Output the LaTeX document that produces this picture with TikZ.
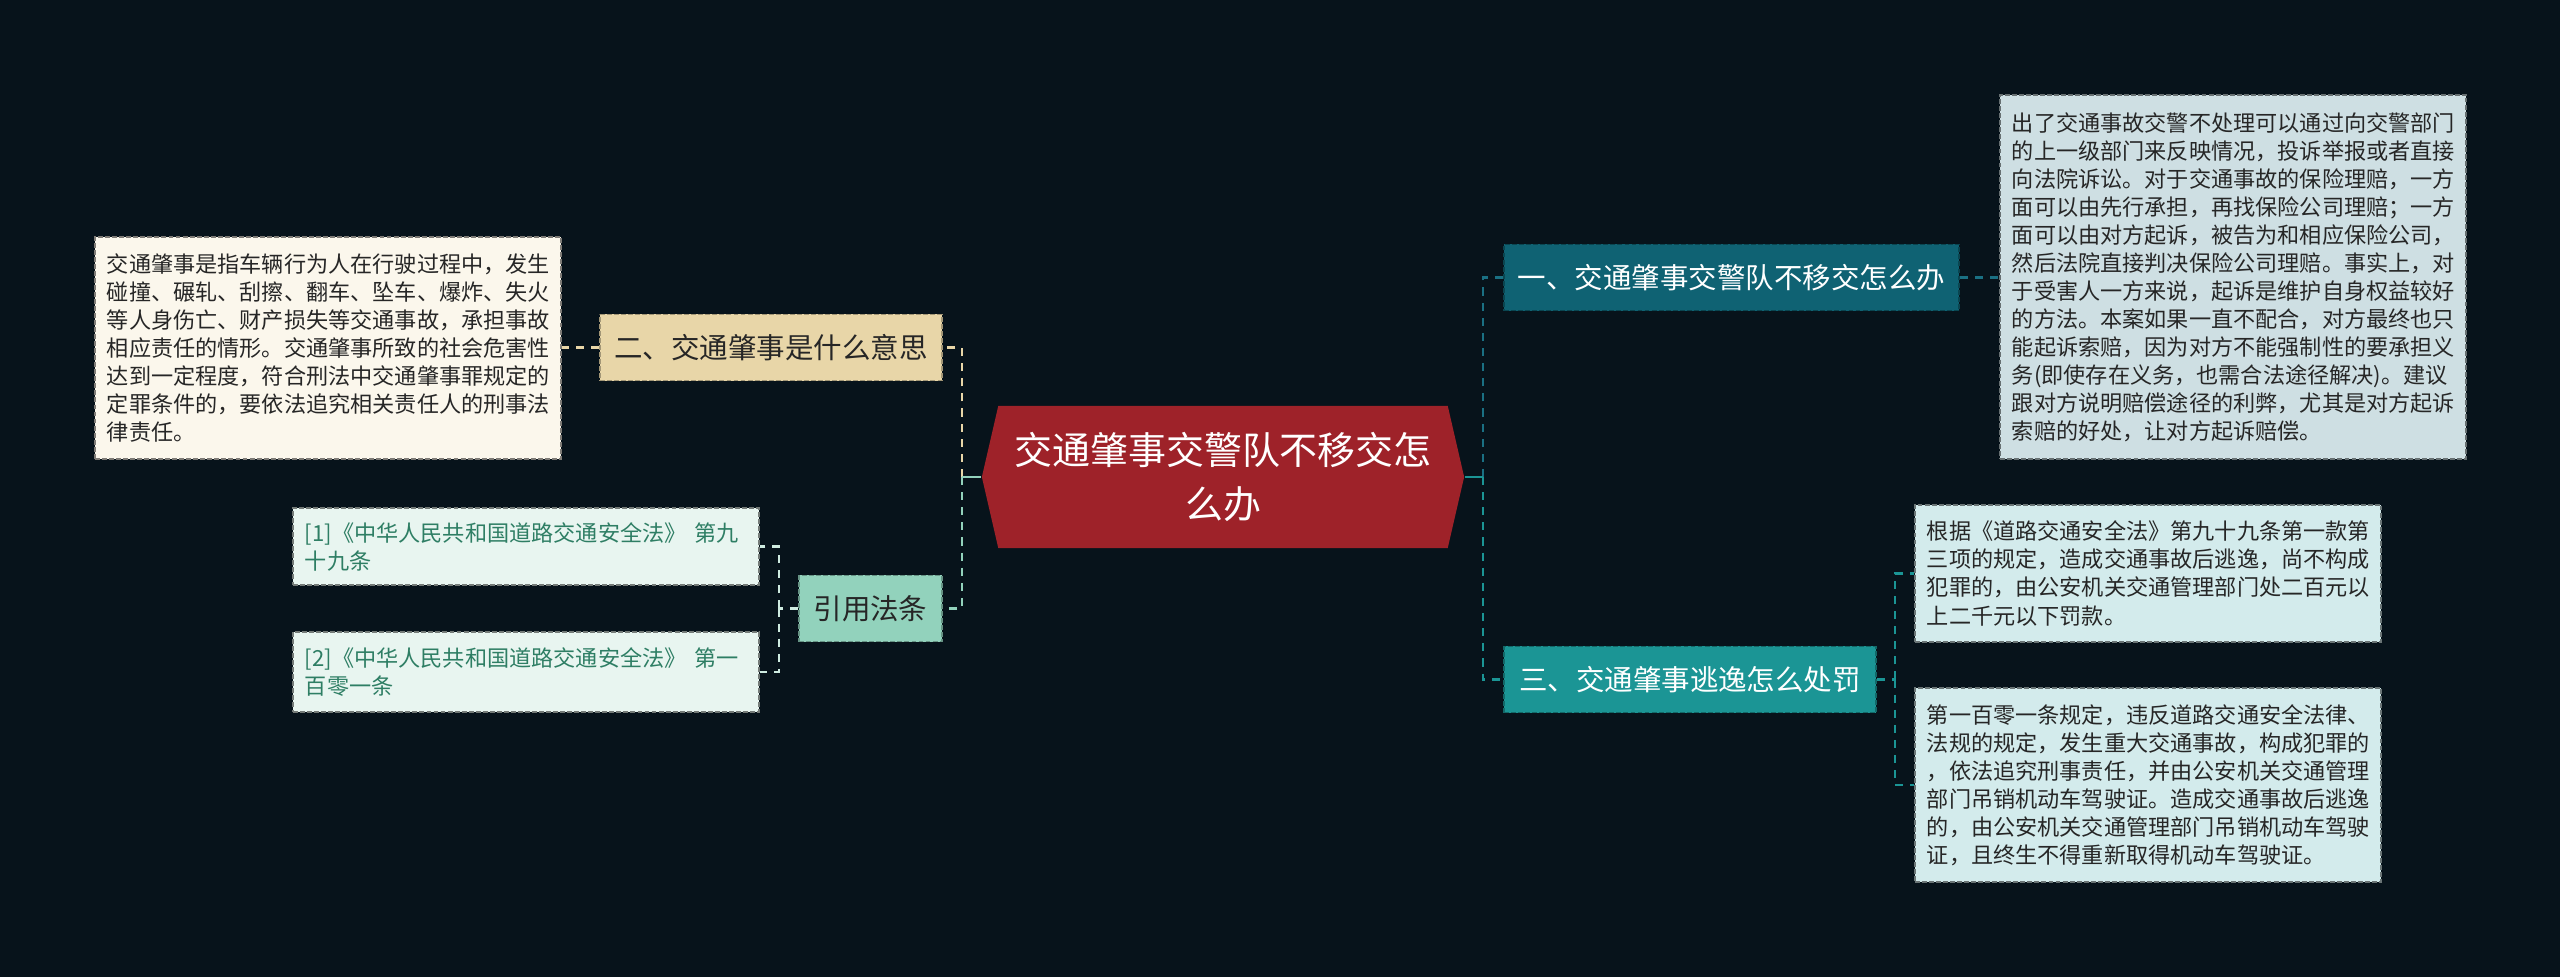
\documentclass[tikz,border=0pt]{standalone}
\usepackage{fontspec}
\setmainfont{Noto Sans CJK SC}
\usetikzlibrary{shapes.symbols}

\definecolor{bg}{HTML}{07131B}
\definecolor{rootred}{HTML}{9E2229}
\definecolor{sand}{HTML}{E8D6A8}
\definecolor{cream}{HTML}{FBF7EC}
\definecolor{mint}{HTML}{92D2BC}
\definecolor{palemint}{HTML}{E8F5F0}
\definecolor{lawgreen}{HTML}{2E7E64}
\definecolor{deepteal}{HTML}{0F6273}
\definecolor{tealline}{HTML}{1A7083}
\definecolor{teal3}{HTML}{1B9595}
\definecolor{mist}{HTML}{CEDFE3}
\definecolor{aqua}{HTML}{D3EBEC}
\definecolor{ink}{HTML}{262626}

\tikzset{
  box/.style={rectangle, draw=#1, dash pattern=on 1.4pt off 0.6pt, line width=0.45pt, inner sep=0pt},
  topic/.style={box=#1!70!black, fill=#1, minimum height=0.66cm, font=\fontsize{8.1}{10}\selectfont},
  note/.style={box=#1!50!black, fill=#1, text=ink, align=left, inner xsep=0.12cm, text width=4.42cm, font=\fontsize{6.3}{7.97}\selectfont},
  root/.style={shape=signal, signal to=west and east, signal pointer angle=154, fill=rootred, text=white, align=center, inner sep=0pt, minimum width=4.82cm, minimum height=1.42cm, font=\fontsize{10.8}{15.6}\selectfont},
  link/.style={line width=0.6pt, dash pattern=on 2.3pt off 2pt},
  stem/.style={line width=0.6pt},
}

\begin{document}
\begin{tikzpicture}[x=0.01cm, y=-0.01cm]
\useasboundingbox (0,0) rectangle (2560,977);
\fill[bg] (0,0) rectangle (2560,977);

\node[root] (root) at (1223,477) {交通肇事交警队不移交怎\\么办};

% left side
\node[topic=sand, text=ink, minimum width=3.42cm] (meaning) at (771,347.5) {二、交通肇事是什么意思};
\node[note=cream, minimum height=2.22cm] (meaningtext) at (328,348) {交通肇事是指车辆行为人在行驶过程中，发生\\碰撞、碾轧、刮擦、翻车、坠车、爆炸、失火\\等人身伤亡、财产损失等交通事故，承担事故\\相应责任的情形。交通肇事所致的社会危害性\\达到一定程度，符合刑法中交通肇事罪规定的\\定罪条件的，要依法追究相关责任人的刑事法\\律责任。};
\node[topic=mint, text=ink, minimum width=1.43cm] (laws) at (870.5,608.5) {引用法条};
\node[note=palemint, text=lawgreen, minimum height=0.77cm] (law1) at (526,546.5) {[1]《中华人民共和国道路交通安全法》~第九\\十九条};
\node[note=palemint, text=lawgreen, minimum height=0.8cm] (law2) at (526,672) {[2]《中华人民共和国道路交通安全法》~第一\\百零一条};

% right side
\node[topic=deepteal, text=white, minimum width=4.55cm] (police) at (1731.5,277.5) {一、交通肇事交警队不移交怎么办};
\node[note=mist, minimum height=3.64cm] (policetext) at (2233,277) {出了交通事故交警不处理可以通过向交警部门\\的上一级部门来反映情况，投诉举报或者直接\\向法院诉讼。对于交通事故的保险理赔，一方\\面可以由先行承担，再找保险公司理赔；一方\\面可以由对方起诉，被告为和相应保险公司，\\然后法院直接判决保险公司理赔。事实上，对\\于受害人一方来说，起诉是维护自身权益较好\\的方法。本案如果一直不配合，对方最终也只\\能起诉索赔，因为对方不能强制性的要承担义\\务(即使存在义务，也需合法途径解决)。建议\\跟对方说明赔偿途径的利弊，尤其是对方起诉\\索赔的好处，让对方起诉赔偿。};
\node[topic=teal3, text=white, minimum width=3.72cm] (escape) at (1690,679.5) {三、交通肇事逃逸怎么处罚};
\node[note=aqua, minimum height=1.37cm] (escape1) at (2148,573.5) {根据《道路交通安全法》第九十九条第一款第\\三项的规定，造成交通事故后逃逸，尚不构成\\犯罪的，由公安机关交通管理部门处二百元以\\上二千元以下罚款。};
\node[note=aqua, minimum height=1.94cm] (escape2) at (2148,785) {第一百零一条规定，违反道路交通安全法律、\\法规的规定，发生重大交通事故，构成犯罪的\\，依法追究刑事责任，并由公安机关交通管理\\部门吊销机动车驾驶证。造成交通事故后逃逸\\的，由公安机关交通管理部门吊销机动车驾驶\\证，且终生不得重新取得机动车驾驶证。};

\coordinate (lspine) at (962,477);
\coordinate (rspine) at (1483,477);
\coordinate (lawspine) at (779,608.5);
\coordinate (escspine) at (1895,679.5);

\draw[link, sand] (lspine) |- (meaning.east);
\draw[link, mint] (lspine) |- (laws.east);
\draw[stem, mint] (root.west) -- (lspine);
\draw[link, sand] (meaning.west) -- (meaning.west -| meaningtext.east);
\draw[link, palemint!70!mint] (laws.west) -- (lawspine);
\draw[link, palemint!70!mint] (lawspine) |- (law1.east);
\draw[link, palemint!70!mint] (lawspine) |- (law2.east);

\draw[link, tealline] (rspine) |- (police.west);
\draw[link, teal3] (rspine) |- (escape.west);
\draw[stem, teal3] (root.east) -- (rspine);
\draw[link, tealline] (police.east) -- (police.east -| policetext.west);
\draw[link, teal3] (escape.east) -- (escspine);
\draw[link, teal3] (escspine) |- (escape1.west);
\draw[link, teal3] (escspine) |- (escape2.west);
\end{tikzpicture}
\end{document}
